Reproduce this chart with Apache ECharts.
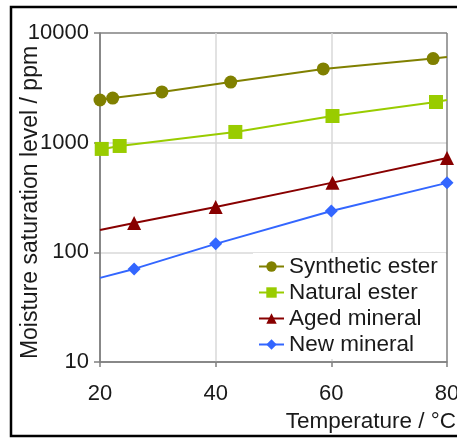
<!DOCTYPE html>
<html>
<head>
<meta charset="utf-8">
<script src="https://cdn.jsdelivr.net/npm/echarts@6/dist/echarts.min.js"></script>
<style>html,body{margin:0;padding:0;background:#fff;}#c{width:457px;height:438px;}</style>
</head>
<body>
<div id="c"></div>
<script>
// Tick values
const xTicks = [20, 40, 60, 80];
const yTicks = [10, 100, 1000, 10000];
const seriesNames = ['Synthetic ester', 'Natural ester', 'Aged mineral', 'New mineral'];

// Measured points (markers)
const synthT = [20, 22.2, 30.7, 42.6, 58.6, 77.6];
const synthV = [2450, 2550, 2900, 3570, 4700, 5850];
const naturalT = [20.3, 23.4, 43.4, 60.2, 78.1];
const naturalV = [877, 933, 1252, 1750, 2350];
const agedT = [25.9, 40, 60.2, 80];
const agedV = [185, 259, 432, 724];
const newT = [25.9, 40, 60, 80];
const newV = [70.6, 119.5, 238, 430];

// Trend line end points (no marker)
const synthLineT = [80];
const synthLineV = [6050];
const naturalLineT = [20, 80];
const naturalLineV = [865, 2450];
const agedLineT = [20];
const agedLineV = [160];
const newLineT = [20];
const newLineV = [58.5];

function build(mT, mV, lT, lV) {
  const pts = mT.map((t, i) => ({ value: [t, mV[i]] }));
  lT.forEach((t, i) => pts.push({ value: [t, lV[i]], symbol: 'none' }));
  pts.sort((a, b) => a.value[0] - b.value[0]);
  return pts;
}

const colors = ['#808000', '#99cc00', '#880000', '#3366ff'];
const symbols = ['circle', 'rect', 'triangle', 'diamond'];
const sizes = [13, 14, 14, 13];
const datasets = [
  build(synthT, synthV, synthLineT, synthLineV),
  build(naturalT, naturalV, naturalLineT, naturalLineV),
  build(agedT, agedV, agedLineT, agedLineV),
  build(newT, newV, newLineT, newLineV)
];

const FONT = 'Liberation Sans';
const TXT = '#1a1a1a';
const chart = echarts.init(document.getElementById('c'), null, { renderer: 'canvas' });
chart.setOption({
  animation: false,
  backgroundColor: '#fff',
  textStyle: { fontFamily: FONT },
  grid: { left: 100, right: 10, top: 33, bottom: 76, containLabel: false, outerBoundsMode: 'none' },
  legend: {
    data: seriesNames,
    orient: 'vertical',
    left: 253,
    top: 253,
    backgroundColor: '#fff',
    padding: [2, 8, 3, 5],
    itemWidth: 25,
    itemHeight: 13,
    itemGap: 3,
    textStyle: { fontFamily: FONT, fontSize: 22.5, color: TXT, lineHeight: 22 }
  },
  xAxis: {
    type: 'value',
    min: xTicks[0],
    max: xTicks[xTicks.length - 1],
    interval: 20,
    name: 'Temperature / °C',
    nameLocation: 'end',
    nameGap: 9,
    nameMoveOverlap: false,
    nameTextStyle: { fontFamily: FONT, fontSize: 22.5, color: TXT, align: 'right', verticalAlign: 'top', padding: [48, 0, 0, 0] },
    axisLine: { show: true, lineStyle: { color: '#808080', width: 1.5 } },
    axisTick: { show: true, length: 5, lineStyle: { color: '#808080', width: 1.5 } },
    axisLabel: { fontFamily: FONT, fontSize: 22, color: TXT, margin: 21 },
    splitLine: { show: true, lineStyle: { color: ['#808080', '#d9d9d9', '#d9d9d9', '#808080'], width: 1.5 } }
  },
  yAxis: {
    type: 'log',
    logBase: 10,
    min: yTicks[0],
    max: yTicks[yTicks.length - 1],
    name: 'Moisture saturation level / ppm',
    nameLocation: 'middle',
    nameGap: 58,
    nameMoveOverlap: false,
    nameTextStyle: { fontFamily: FONT, fontSize: 23, color: TXT, padding: [0, 10, 0, 0] },
    axisLine: { show: true, lineStyle: { color: '#808080', width: 1.5 } },
    axisTick: { show: true, length: 6, lineStyle: { color: '#808080', width: 1.5 } },
    axisLabel: { fontFamily: FONT, fontSize: 22, color: TXT, margin: 11, formatter: v => String(Math.round(v)) },
    splitLine: { show: true, lineStyle: { color: ['#808080', '#d9d9d9', '#d9d9d9', '#808080'], width: 1.5 } }
  },
  graphic: [{
    type: 'rect',
    shape: { x: 11, y: 7, width: 460, height: 429 },
    style: { fill: 'none', stroke: '#000', lineWidth: 2.5 },
    silent: true,
    z: 100
  }],
  series: seriesNames.map((name, i) => ({
    name: name,
    type: 'line',
    data: datasets[i],
    smooth: false,
    symbol: symbols[i],
    symbolSize: sizes[i],
    showAllSymbol: true,
    itemStyle: { color: colors[i] },
    lineStyle: { color: colors[i], width: 2 },
    clip: false
  }))
});
</script>
</body>
</html>
